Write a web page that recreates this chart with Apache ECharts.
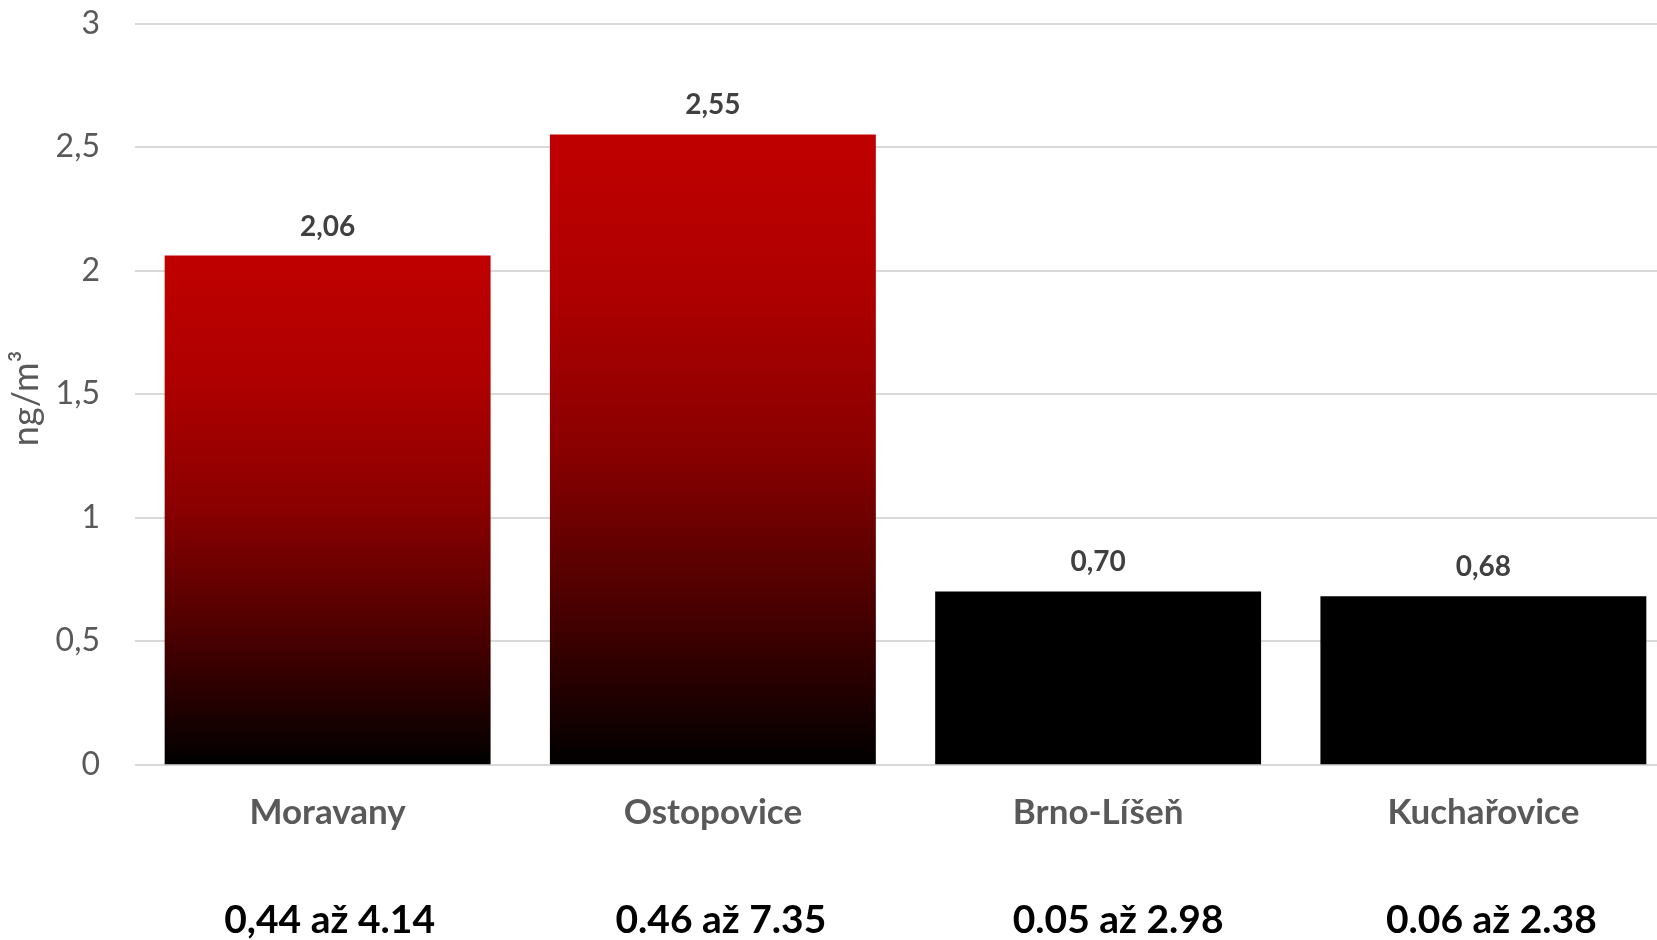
<!DOCTYPE html>
<html>
<head>
<meta charset="utf-8">
<style>
  html, body { margin: 0; padding: 0; background: #ffffff; }
  #chart { width: 1657px; height: 940px; }
</style>
<script src="https://cdn.jsdelivr.net/npm/echarts@6/dist/echarts.min.js"></script>
</head>
<body>
<div id="chart"></div>
<script>
// Sampling sites
const categories = ['Moravany', 'Ostopovice', 'Brno-Líšeň', 'Kuchařovice'];
// Mean concentration, ng/m3
const values = [2.06, 2.55, 0.70, 0.68];
// Min-max range measured at each site
const ranges = ['0,44 až 4.14', '0.46 až 7.35', '0.05 až 2.98', '0.06 až 2.38'];
// Sites highlighted with the red gradient
const highlighted = [true, true, false, false];
// Y axis ticks
const yTicks = { min: 0, max: 3, step: 0.5 };

// Small horizontal nudges for the range captions (px)
const rangeNudge = [2, 8, 20, 8];

const FONT = 'Lato, "Open Sans", sans-serif';

const redGradient = new echarts.graphic.LinearGradient(0, 0, 0, 1, [
  { offset: 0, color: '#C00000' },
  { offset: 0.25, color: '#AE0000' },
  { offset: 0.5, color: '#8A0000' },
  { offset: 0.75, color: '#4A0000' },
  { offset: 1, color: '#000000' }
]);

const comma = v => String(v).replace('.', ',');

const chart = echarts.init(document.getElementById('chart'), null, { renderer: 'canvas' });

chart.setOption({
  backgroundColor: '#ffffff',
  animation: false,
  grid: {
    left: 135, top: 23.3, width: 1541, height: 741,
    containLabel: false,
    outerBoundsMode: 'none'
  },
  xAxis: [
    {
      type: 'category',
      data: categories,
      axisLine: { show: false },
      axisTick: { show: false },
      axisLabel: {
        margin: 31,
        fontFamily: FONT,
        fontWeight: 'bold',
        fontSize: 35,
        color: '#595959'
      }
    },
    {
      type: 'category',
      position: 'bottom',
      data: ranges.map((r, i) => ({
        value: r,
        textStyle: { padding: [0, 0, 0, 2 * rangeNudge[i]] }
      })),
      axisLine: { show: false },
      axisTick: { show: false },
      splitLine: { show: false },
      axisLabel: {
        margin: 137,
        fontFamily: FONT,
        fontWeight: 'bold',
        fontSize: 39,
        color: '#000000'
      }
    }
  ],
  yAxis: {
    type: 'value',
    min: yTicks.min,
    max: yTicks.max,
    interval: yTicks.step,
    name: 'ng/m³',
    nameLocation: 'middle',
    nameGap: 86,
    nameTextStyle: {
      fontFamily: FONT,
      fontSize: 36,
      color: '#595959',
      padding: [0, 9, 0, 0]
    },
    axisLine: { show: false },
    axisTick: { show: false },
    axisLabel: {
      margin: 35,
      fontFamily: FONT,
      fontSize: 32,
      color: '#595959',
      formatter: v => comma(v)
    },
    splitLine: { lineStyle: { color: '#D9D9D9', width: 2 } }
  },
  series: [{
    type: 'bar',
    xAxisIndex: 0,
    barCategoryGap: '15.4%',
    data: values.map((v, i) => ({
      value: v,
      itemStyle: { color: highlighted[i] ? redGradient : '#000000' }
    })),
    label: {
      show: true,
      position: 'top',
      distance: 15,
      fontFamily: FONT,
      fontWeight: 'bold',
      fontSize: 28,
      color: '#404040',
      formatter: p => p.value.toFixed(2).replace('.', ',')
    }
  }]
});
</script>
</body>
</html>
